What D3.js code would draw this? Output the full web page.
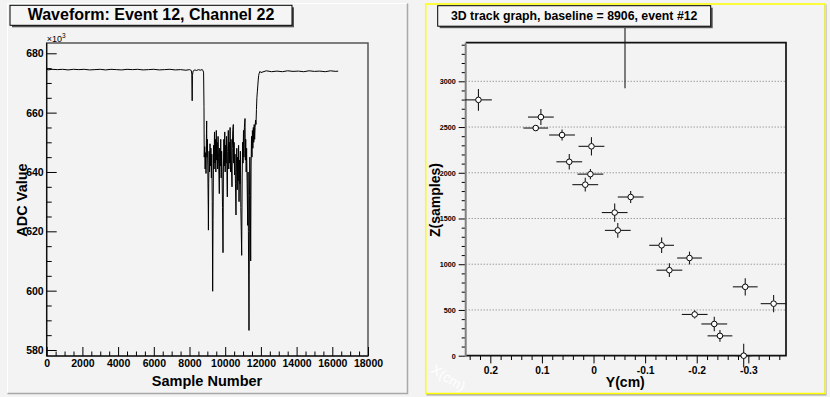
<!DOCTYPE html>
<html>
<head>
<meta charset="utf-8">
<script src="https://cdn.jsdelivr.net/npm/d3@7"></script>
<style>
  html, body { margin: 0; padding: 0; background: #f3f3f3; }
  svg { display: block; font-family: "Liberation Sans", Arial, sans-serif; }
</style>
</head>
<body>
<div id="chart"></div>
<script>
// ===== Values =====
const waveTitle = "Waveform: Event 12, Channel 22";
const trackTitle = "3D track graph, baseline = 8906, event #12";

// Waveform: [sample number, ADC value in units of 10^3]
const waveformPoints = [
    [0, 674.9], [60, 674.4], [300, 674.6], [600, 674.5], [900, 674.6], [1200, 674.4],
    [1500, 674.6], [1800, 674.5], [2100, 674.6], [2400, 674.4], [2700, 674.5], [3000, 674.6],
    [3300, 674.4], [3600, 674.6], [3900, 674.5], [4200, 674.4], [4500, 674.6], [4800, 674.5],
    [5100, 674.6], [5400, 674.4], [5700, 674.5], [6000, 674.6], [6300, 674.4], [6600, 674.5],
    [6900, 674.6], [7200, 674.4], [7500, 674.5], [7800, 674.3], [8000, 674.5], [8100, 674.2],
    [8130, 673.0], [8150, 664.0], [8165, 672.5], [8200, 674.0], [8300, 674.4], [8400, 674.2],
    [8500, 674.5], [8600, 674.3], [8700, 674.5], [8760, 674.2], [8790, 673.4],
    [8812, 662.0], [8825, 645.0], [8850, 648.5], [8875, 641.0], [8900, 646.5], [8925, 639.5],
    [8950, 653.0], [8962, 657.2], [8975, 645.0], [9000, 651.0], [9025, 642.0], [9050, 628.0],
    [9060, 620.4], [9075, 636.0], [9100, 647.0], [9125, 640.0], [9150, 649.5], [9175, 642.0],
    [9200, 648.0], [9225, 638.0], [9250, 646.0], [9275, 630.0], [9298, 599.8], [9320, 624.0],
    [9350, 649.0], [9375, 641.0], [9400, 653.5], [9425, 643.0], [9450, 651.0], [9475, 640.0],
    [9500, 654.0], [9525, 644.0], [9550, 650.0], [9575, 641.0], [9600, 652.0], [9625, 645.0],
    [9650, 639.0], [9671, 632.7], [9690, 648.0], [9725, 642.0], [9750, 651.0], [9775, 638.0],
    [9800, 647.0], [9825, 640.0], [9850, 628.0], [9877, 612.8], [9900, 641.0], [9925, 651.0],
    [9950, 642.0], [9975, 653.5], [10000, 640.0], [10025, 649.0], [10050, 643.0], [10075, 652.0],
    [10100, 638.0], [10119, 631.6], [10140, 647.0], [10175, 654.0], [10200, 641.0], [10225, 650.0],
    [10250, 643.0], [10275, 655.0], [10300, 640.0], [10325, 651.0], [10350, 642.0], [10381, 635.0],
    [10400, 648.0], [10425, 654.0], [10455, 656.0], [10475, 643.0], [10500, 650.0], [10525, 639.0],
    [10550, 646.0], [10575, 636.0], [10605, 625.5], [10625, 641.0], [10650, 648.0], [10675, 634.0],
    [10700, 645.0], [10725, 637.0], [10750, 649.0], [10775, 630.0], [10800, 644.0], [10825, 636.0],
    [10850, 647.0], [10875, 628.0], [10900, 620.0], [10923, 611.9], [10950, 638.0], [10975, 650.0],
    [11000, 643.0], [11025, 654.0], [11050, 645.0], [11075, 655.0], [11110, 658.0], [11130, 644.0],
    [11150, 651.0], [11175, 640.0], [11200, 648.0], [11230, 636.0], [11259, 622.0], [11280, 640.0],
    [11300, 620.0], [11333, 586.6], [11345, 605.0], [11360, 632.0], [11380, 645.0], [11400, 638.0],
    [11427, 610.0], [11450, 642.0], [11475, 652.0], [11500, 645.0], [11525, 654.0], [11550, 648.0],
    [11575, 655.0], [11600, 650.0], [11625, 656.0], [11650, 651.0], [11675, 655.0], [11700, 657.5],
    [11725, 656.0], [11750, 661.0], [11775, 665.0], [11800, 667.0], [11825, 669.0], [11850, 671.0],
    [11875, 672.5], [11900, 673.2], [11950, 673.9], [12000, 673.5], [12300, 674.1], [12600, 673.8],
    [12900, 674.0], [13200, 673.8], [13500, 674.1], [13800, 673.9], [14100, 674.0], [14400, 673.8],
    [14700, 674.1], [15000, 673.9], [15300, 674.0], [15600, 673.8], [15900, 674.1], [16200, 673.9],
    [16330, 674.0]
];

const sampleTicks = [0, 2000, 4000, 6000, 8000, 10000, 12000, 14000, 16000, 18000];
const adcTicks = [580, 600, 620, 640, 660, 680];

// 3D track graph: Y(cm), Z(samples) and their errors
const trackY    = [0.223, 0.102, 0.112, 0.061, 0.004, 0.047, 0.006, 0.016, -0.072, -0.041,
                   -0.047, -0.132, -0.147, -0.186, -0.196, -0.234, -0.245, -0.291, -0.294, -0.349, -0.061];
const trackZ    = [2797, 2609, 2489, 2413, 2289, 2120, 1985, 1870, 1735, 1565,
                   1370, 1207, 935, 1068, 451, 347, 217, 0, 753, 569, 3700];
const trackYErr = [0.026, 0.025, 0.024, 0.025, 0.025, 0.025, 0.025, 0.025, 0.025, 0.025,
                   0.025, 0.024, 0.025, 0.024, 0.025, 0.025, 0.024, 0.016, 0.024, 0.025, 0.025];
const trackZErr = [120, 87, 25, 60, 100, 85, 55, 75, 65, 100,
                   80, 85, 75, 70, 45, 80, 65, 130, 95, 95, 776];

const zTicks = [0, 500, 1000, 1500, 2000, 2500, 3000];
const yCmTicks = [0.2, 0.1, 0, -0.1, -0.2, -0.3];

const fontFamily = "Liberation Sans, Arial, Helvetica, sans-serif";

function GenerateChart() {
    const width = 830;
    const height = 397;

    const svg = d3.select("#chart")
        .append("svg")
        .attr("width", width)
        .attr("height", height);

    svg.append("rect")
        .attr("width", width)
        .attr("height", height)
        .attr("fill", "#f3f3f3");

    GenerateWaveformPad(svg);
    GenerateTrackPad(svg);
}

// ========= Helper Functions ===========

function StyleAxis(g, size) {
    g.attr("font-family", fontFamily)
        .attr("font-size", size)
        .attr("font-weight", "bold")
        .attr("color", "#000");
    g.select(".domain").remove();
    return g;
}

function DrawTitleBox(svg, x, y, w, h, text, fontSize, baseline)
/* ROOT style title box with a little drop shadow */ {
    svg.append("rect")
        .attr("x", x + 2).attr("y", y + 2)
        .attr("width", w).attr("height", h)
        .attr("fill", "#555");
    svg.append("rect")
        .attr("x", x).attr("y", y)
        .attr("width", w).attr("height", h)
        .attr("fill", "#f5f5f5")
        .attr("stroke", "#000")
        .attr("stroke-width", 1);
    svg.append("text")
        .attr("x", x + w / 2)
        .attr("y", baseline)
        .attr("text-anchor", "middle")
        .attr("font-family", fontFamily)
        .attr("font-weight", "bold")
        .attr("font-size", fontSize)
        .text(text);
}

function GenerateWaveformPad(svg) {
    const frame = { left: 46.7, right: 368, top: 43, bottom: 356 };

    // pad border: light top/left, grey bottom/right
    svg.append("path")
        .attr("d", "M7.5,393 L7.5,3.5 L407,3.5")
        .attr("fill", "none").attr("stroke", "#ffffff").attr("stroke-width", 1);
    svg.append("path")
        .attr("d", "M7.5,393.5 L407.5,393.5 L407.5,3.5")
        .attr("fill", "none").attr("stroke", "#a8a8a8").attr("stroke-width", 1.5);

    const x = d3.scaleLinear().domain([0, 18000]).range([frame.left, frame.right]);
    const y = d3.scaleLinear().domain([577.98, 683.47]).range([frame.bottom, frame.top]);

    // frame
    svg.append("rect")
        .attr("x", frame.left).attr("y", frame.top)
        .attr("width", frame.right - frame.left)
        .attr("height", frame.bottom - frame.top)
        .attr("fill", "#f3f3f3")
        .attr("stroke", "#555")
        .attr("stroke-width", 1.5);

    // the waveform itself
    const line = d3.line()
        .x(d => x(d[0]))
        .y(d => y(d[1]));

    svg.append("path")
        .datum(waveformPoints)
        .attr("d", line)
        .attr("fill", "none")
        .attr("stroke", "#000")
        .attr("stroke-width", 1);

    // minor ticks (inside the frame)
    const adcMinor = d3.range(580, 683, 5).filter(v => !adcTicks.includes(v));
    const sampleMinor = d3.range(0, 18000, 500).filter(v => !sampleTicks.includes(v));

    StyleAxis(svg.append("g")
        .attr("transform", `translate(${frame.left},0)`)
        .call(d3.axisLeft(y).tickValues(adcMinor).tickSize(-5).tickFormat("")), 10);

    StyleAxis(svg.append("g")
        .attr("transform", `translate(0,${frame.bottom})`)
        .call(d3.axisBottom(x).tickValues(sampleMinor).tickSize(-4.5).tickFormat("")), 10);

    // major ticks with labels
    StyleAxis(svg.append("g")
        .attr("transform", `translate(${frame.left},0)`)
        .call(d3.axisLeft(y).tickValues(adcTicks).tickSize(-10).tickPadding(3).tickFormat(d3.format("d"))), 10.5);

    StyleAxis(svg.append("g")
        .attr("transform", `translate(0,${frame.bottom})`)
        .call(d3.axisBottom(x).tickValues(sampleTicks).tickSize(-9).tickPadding(4).tickFormat(d3.format("d"))), 10.5);

    // axis lines
    svg.append("path")
        .attr("d", `M${frame.left},${frame.top} L${frame.left},${frame.bottom} L${frame.right},${frame.bottom}`)
        .attr("fill", "none").attr("stroke", "#000").attr("stroke-width", 1);

    // x10^3 exponent
    const expo = svg.append("text")
        .attr("x", frame.left)
        .attr("y", 41.5)
        .attr("font-family", fontFamily)
        .attr("font-size", 9);
    expo.append("tspan").text("\u00d710");
    expo.append("tspan").attr("dy", -4).attr("font-size", 6.5).text("3");

    // axis titles
    svg.append("text")
        .attr("x", 207)
        .attr("y", 386)
        .attr("text-anchor", "middle")
        .attr("font-family", fontFamily)
        .attr("font-weight", "bold")
        .attr("font-size", 14.5)
        .text("Sample Number");

    svg.append("text")
        .attr("transform", "translate(27,200) rotate(-90)")
        .attr("text-anchor", "middle")
        .attr("font-family", fontFamily)
        .attr("font-weight", "bold")
        .attr("font-size", 14.5)
        .text("ADC Value");

    DrawTitleBox(svg, 10, 5.3, 282, 20, waveTitle, 16, 19.5);
}

function GenerateTrackPad(svg) {
    const frame = { left: 465.7, right: 786, top: 42.7, bottom: 355.7 };

    // yellow highlighted pad border
    svg.append("path")
        .attr("d", "M426.5,394.5 L825.5,394.5 L825.5,4.5")
        .attr("fill", "none").attr("stroke", "#a8a8a8").attr("stroke-width", 2);
    svg.append("rect")
        .attr("x", 425.7).attr("y", 4)
        .attr("width", 399.5).attr("height", 389.5)
        .attr("fill", "none")
        .attr("stroke", "#ffff00")
        .attr("stroke-width", 1.5);

    const x = d3.scaleLinear().domain([0.2477, -0.373]).range([frame.left, frame.right]);
    const z = d3.scaleLinear().domain([0, 3422]).range([frame.bottom, frame.top]);

    // dotted grid lines
    svg.append("g")
        .selectAll("line")
        .data(zTicks.filter(v => v > 0))
        .join("line")
        .attr("x1", frame.left).attr("x2", frame.right)
        .attr("y1", d => z(d)).attr("y2", d => z(d))
        .attr("stroke", "#777")
        .attr("stroke-width", 1)
        .attr("stroke-dasharray", "1,2");

    // minor ticks (outside the frame)
    const zMinor = d3.range(0, 3422, 100).filter(v => v % 500 !== 0);
    const yMinor = d3.range(-18, 13, 1).map(v => v * 0.02).filter(v => Math.abs(v * 10 - Math.round(v * 10)) > 1e-6);

    StyleAxis(svg.append("g")
        .attr("transform", `translate(${frame.left},0)`)
        .call(d3.axisLeft(z).tickValues(zMinor).tickSize(4).tickFormat("")), 7);

    StyleAxis(svg.append("g")
        .attr("transform", `translate(0,${frame.bottom})`)
        .call(d3.axisBottom(x).tickValues(yMinor).tickSize(4.3).tickFormat("")), 10);

    StyleAxis(svg.append("g")
        .attr("transform", `translate(${frame.left},0)`)
        .call(d3.axisLeft(z).tickValues(zTicks).tickSize(7).tickPadding(3).tickFormat(d3.format("d"))), 7.2);

    StyleAxis(svg.append("g")
        .attr("transform", `translate(0,${frame.bottom})`)
        .call(d3.axisBottom(x).tickValues(yCmTicks).tickSize(7.7).tickPadding(3).tickFormat(d => String(d))), 10.3);

    // frame lines
    svg.append("path")
        .attr("d", `M${frame.left},${frame.top} L${frame.right},${frame.top} L${frame.right},${frame.bottom} L${frame.left},${frame.bottom}`)
        .attr("fill", "none").attr("stroke", "#111").attr("stroke-width", 1.7);
    svg.append("line")
        .attr("x1", frame.left).attr("x2", frame.left)
        .attr("y1", frame.top).attr("y2", frame.bottom + 1)
        .attr("stroke", "#808080").attr("stroke-width", 2);

    // graph points with error bars (error bars stop at the marker)
    const points = trackY.map((v, i) => ({
        y: v, z: trackZ[i], ey: trackYErr[i], ez: trackZErr[i]
    }));
    const r = 2.8;
    const topLimit = 6;

    svg.append("clipPath")
        .attr("id", "trackClip")
        .append("rect")
        .attr("x", 426).attr("y", topLimit)
        .attr("width", 399).attr("height", 388);

    const marks = svg.append("g").attr("clip-path", "url(#trackClip)");

    const bars = [];
    points.forEach(p => {
        const cx = x(p.y), cy = z(p.z);
        const xl = x(p.y + p.ey), xr = x(p.y - p.ey);
        const yt = z(p.z + p.ez), yb = z(p.z - p.ez);
        if (cx - xl > r) bars.push([xl, cy, cx - r, cy]);
        if (xr - cx > r) bars.push([cx + r, cy, xr, cy]);
        if (cy - yt > r) bars.push([cx, yt, cx, cy - r]);
        if (yb - cy > r) bars.push([cx, cy + r, cx, yb]);
    });

    marks.selectAll(".err")
        .data(bars)
        .join("line")
        .attr("class", "err")
        .attr("x1", d => d[0]).attr("y1", d => d[1])
        .attr("x2", d => d[2]).attr("y2", d => d[3])
        .attr("stroke", "#1a1a1a")
        .attr("stroke-width", 1.1);

    marks.selectAll(".pt")
        .data(points)
        .join("circle")
        .attr("class", "pt")
        .attr("cx", d => x(d.y))
        .attr("cy", d => z(d.z))
        .attr("r", r)
        .attr("fill", "#fff")
        .attr("stroke", "#000")
        .attr("stroke-width", 1);

    // axis titles
    svg.append("text")
        .attr("x", 625.3)
        .attr("y", 386.5)
        .attr("text-anchor", "middle")
        .attr("font-family", fontFamily)
        .attr("font-weight", "bold")
        .attr("font-size", 14)
        .text("Y(cm)");

    svg.append("text")
        .attr("transform", "translate(440,200) rotate(-90)")
        .attr("text-anchor", "middle")
        .attr("font-family", fontFamily)
        .attr("font-weight", "bold")
        .attr("font-size", 14)
        .text("Z(samples)");

    // faint white X axis label of the 3D view
    svg.append("text")
        .attr("transform", "translate(430,372) rotate(32)")
        .attr("font-family", fontFamily)
        .attr("font-size", 14)
        .attr("fill", "#ffffff")
        .text("X(cm)");

    DrawTitleBox(svg, 437.7, 5.7, 273, 20.5, trackTitle, 12.3, 20);
}

GenerateChart();
</script>
</body>
</html>
